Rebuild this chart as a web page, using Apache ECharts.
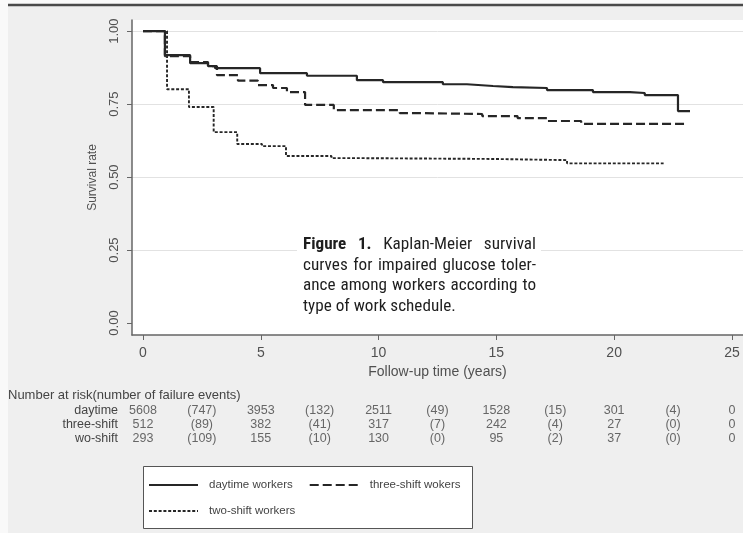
<!DOCTYPE html>
<html>
<head>
<meta charset="utf-8">
<script src="https://cdn.jsdelivr.net/npm/echarts@6/dist/echarts.min.js"></script>
<style>
  html, body { margin: 0; padding: 0; background: #fff; }
  #chart { width: 743px; height: 533px; }
</style>
</head>
<body>
<div id="chart"></div>
<script>
// Kaplan-Meier curves: event times (years) and survival rate after each step
const daytimeTime = [0, 0.93, 2.0, 2.76, 3.06, 4.97, 6.96, 9.08, 10.19, 12.73, 13.75, 14.86, 15.7, 17.15, 19.1, 20.67, 21.3, 22.71, 23.22];
const daytimeSurv = [1.0, 0.918, 0.890, 0.880, 0.873, 0.856, 0.847, 0.832, 0.825, 0.818, 0.812, 0.808, 0.805, 0.798, 0.791, 0.788, 0.781, 0.726, 0.726];

const threeShiftTime = [0, 0.93, 2.0, 2.76, 3.14, 4.03, 4.88, 5.52, 6.11, 6.88, 8.1, 10.9, 11.9, 14.4, 15.9, 17.15, 18.6, 23.1];
const threeShiftSurv = [1.0, 0.914, 0.894, 0.880, 0.849, 0.830, 0.815, 0.805, 0.791, 0.747, 0.729, 0.719, 0.716, 0.709, 0.702, 0.692, 0.682, 0.682];

const twoShiftTime = [0, 1.02, 1.95, 3.0, 4.0, 5.05, 6.07, 8.0, 8.8, 14.85, 18.0, 22.1];
const twoShiftSurv = [1.0, 0.801, 0.740, 0.654, 0.613, 0.606, 0.572, 0.565, 0.562, 0.558, 0.547, 0.547];

// Axis ticks
const xTicks = [0, 5, 10, 15, 20, 25];
const yTicks = [0, 0.25, 0.5, 0.75, 1];
const yGrid = [0.25, 0.5, 0.75, 1];

// Number at risk table (counts at 0,5,...,25; failure events in each 5-year interval)
const riskTimes = [0, 2.5, 5, 7.5, 10, 12.5, 15, 17.5, 20, 22.5, 25];
const riskRows = ['daytime', 'three-shift', 'wo-shift'];
const daytimeAtRisk = [5608, 3953, 2511, 1528, 301, 0];
const daytimeEvents = [747, 132, 49, 15, 4];
const threeShiftAtRisk = [512, 382, 317, 242, 27, 0];
const threeShiftEvents = [89, 41, 7, 4, 0];
const twoShiftAtRisk = [293, 155, 130, 95, 37, 0];
const twoShiftEvents = [109, 10, 0, 2, 0];

const seriesNames = ['daytime workers', 'three-shift wokers', 'two-shift workers'];
const captionLines = [
  [{ t: 'Figure', b: true }, { t: '1.', b: true }, { t: 'Kaplan-Meier' }, { t: 'survival' }],
  [{ t: 'curves' }, { t: 'for' }, { t: 'impaired' }, { t: 'glucose' }, { t: 'toler-' }],
  [{ t: 'ance' }, { t: 'among' }, { t: 'workers' }, { t: 'according' }, { t: 'to' }],
  [{ t: 'type of work schedule.' }]
];
const tableHeader = 'Number at risk(number of failure events)';

const LINE = '#262626';
const AXIS = '#666';
const TXT = '#505050';
const FONT = "'Liberation Sans', Arial, sans-serif";
const CAPFONT = "'Liberation Sans Narrow', 'Roboto Condensed', Roboto, sans-serif";

function stepData(times, surv) {
  return times.map((t, i) => [t, surv[i]]);
}

function riskData(atRisk, events, row) {
  return riskTimes.map((t, i) => {
    const txt = i % 2 === 0 ? String(atRisk[i / 2]) : '(' + events[(i - 1) / 2] + ')';
    return [t, row, txt];
  });
}

// Justified caption layout, one text element per word
const measure = document.createElement('canvas').getContext('2d');
const CAP_SIZE = 16.5;
const CAP_STRETCH = 1.04;
function wordWidth(w) {
  measure.font = (w.b ? 'bold ' : '') + CAP_SIZE + 'px ' + CAPFONT;
  return measure.measureText(w.t).width * CAP_STRETCH;
}
function captionElements() {
  const x0 = 303, x1 = 536, y0 = 245, dy = 20.5;
  const els = [];
  captionLines.forEach((words, li) => {
    const widths = words.map(wordWidth);
    const total = widths.reduce((a, b) => a + b, 0);
    const gap = words.length > 1 ? (x1 - x0 - total) / (words.length - 1) : 0;
    let x = x0;
    words.forEach((w, wi) => {
      els.push({
        type: 'text', x: x, y: y0 + li * dy, z: 20, scaleX: CAP_STRETCH,
        style: {
          text: w.t, fill: '#1e1e1e', fontSize: CAP_SIZE, fontFamily: CAPFONT,
          fontWeight: w.b ? 'bold' : 'normal', verticalAlign: 'middle', align: 'left'
        }
      });
      x += widths[wi] + gap;
    });
  });
  return els;
}

const xMin = -0.467, xMax = 25.47;
const yMin = -0.041, yMax = 1.038;

const chart = echarts.init(document.getElementById('chart'), null, { renderer: 'canvas' });

const lineSeries = [
  { name: seriesNames[0], data: stepData(daytimeTime, daytimeSurv), type: 'solid', width: 2.2 },
  { name: seriesNames[1], data: stepData(threeShiftTime, threeShiftSurv), type: [9, 4], width: 2.2 },
  { name: seriesNames[2], data: stepData(twoShiftTime, twoShiftSurv), type: [3, 1.8], width: 1.9 }
].map(s => ({
  name: s.name, type: 'line', step: 'end', xAxisIndex: 0, yAxisIndex: 0,
  data: s.data, symbol: 'none', showSymbol: false, color: LINE,
  lineStyle: { color: LINE, width: s.width, type: s.type }
}));

const tableSeries = [
  riskData(daytimeAtRisk, daytimeEvents, riskRows[0]),
  riskData(threeShiftAtRisk, threeShiftEvents, riskRows[1]),
  riskData(twoShiftAtRisk, twoShiftEvents, riskRows[2])
].map(d => ({
  type: 'scatter', xAxisIndex: 1, yAxisIndex: 2, data: d, symbolSize: 0,
  silent: true,
  label: {
    show: true, position: 'inside', formatter: p => p.value[2],
    color: '#444', fontSize: 12.5, fontFamily: FONT
  }
}));

const legendCommon = {
  orient: 'horizontal', itemWidth: 49, itemHeight: 14, padding: 0, itemGap: 16,
  itemStyle: { opacity: 0, borderWidth: 0 },
  textStyle: { color: '#444', fontSize: 11.5, fontFamily: FONT, padding: [0, 0, 0, 6], width: 84 },
  selectedMode: false
};

chart.setOption({
  animation: false,
  backgroundColor: '#efefef',
  textStyle: { fontFamily: FONT },
  grid: [
    { left: 132, right: 0, top: 20, bottom: 198, show: true, backgroundColor: '#fff', borderWidth: 0 },
    { left: 132, right: 0, top: 404, height: 41 }
  ],
  xAxis: [
    {
      type: 'value', gridIndex: 0, min: xMin, max: xMax,
      name: 'Follow-up time (years)', nameLocation: 'middle', nameGap: 29,
      nameTextStyle: { color: TXT, fontSize: 14, fontFamily: FONT },
      axisLine: { onZero: false, lineStyle: { color: AXIS, width: 1.5 } },
      axisTick: { customValues: xTicks, length: 5, lineStyle: { color: AXIS } },
      axisLabel: { customValues: xTicks, color: TXT, fontSize: 14, margin: 11 },
      splitLine: { show: false }
    },
    { type: 'value', gridIndex: 1, min: xMin, max: xMax, show: false }
  ],
  yAxis: [
    {
      type: 'value', gridIndex: 0, min: yMin, max: yMax,
      name: 'Survival rate', nameLocation: 'middle', nameGap: 33,
      nameTextStyle: { color: TXT, fontSize: 12, fontFamily: FONT },
      axisLine: { onZero: false, lineStyle: { color: AXIS, width: 1.5 } },
      axisTick: { customValues: yTicks, length: 5, lineStyle: { color: AXIS } },
      axisLabel: { customValues: yTicks, rotate: 90, color: TXT, fontSize: 13, margin: 11,
                   formatter: v => v.toFixed(2) },
      splitLine: { show: false }
    },
    {
      type: 'value', gridIndex: 0, min: yMin, max: yMax,
      axisLine: { show: false },
      axisTick: { show: false, customValues: yGrid },
      axisLabel: { show: false },
      splitLine: { show: true, lineStyle: { color: '#e2e2e2', width: 1 } }
    },
    {
      type: 'category', gridIndex: 1, data: riskRows, inverse: true,
      axisLine: { show: false }, axisTick: { show: false },
      axisLabel: { color: '#444', fontSize: 12.5, margin: 14, fontFamily: FONT, interval: 0 },
      splitLine: { show: false }
    }
  ],
  legend: [
    Object.assign({ data: [seriesNames[0], seriesNames[1]], left: 148, top: 479 }, legendCommon),
    Object.assign({ data: [seriesNames[2]], left: 148, top: 505 }, legendCommon)
  ],
  graphic: [
    { type: 'rect', shape: { x: 0, y: 0, width: 8, height: 533 }, style: { fill: '#f9f9f9' }, z: 1 },
    { type: 'rect', shape: { x: 0, y: 0, width: 743, height: 4 }, style: { fill: '#fafafa' }, z: 1 },
    { type: 'line', shape: { x1: 8, y1: 5, x2: 743, y2: 5 }, style: { stroke: '#4a4a4a', lineWidth: 2.5 }, z: 2 },
    { type: 'rect', shape: { x: 297, y: 233, width: 244, height: 87 }, style: { fill: '#fff' }, z: 10 },
    { type: 'rect', shape: { x: 143.5, y: 466.5, width: 329, height: 62 },
      style: { fill: '#fff', stroke: '#555', lineWidth: 1 }, z: 1 },
    { type: 'text', x: 8, y: 395, z: 5,
      style: { text: tableHeader, fill: '#444', fontSize: 13, fontFamily: FONT, verticalAlign: 'middle' } }
  ].concat(captionElements()),
  series: lineSeries.concat(tableSeries)
});
</script>
</body>
</html>
